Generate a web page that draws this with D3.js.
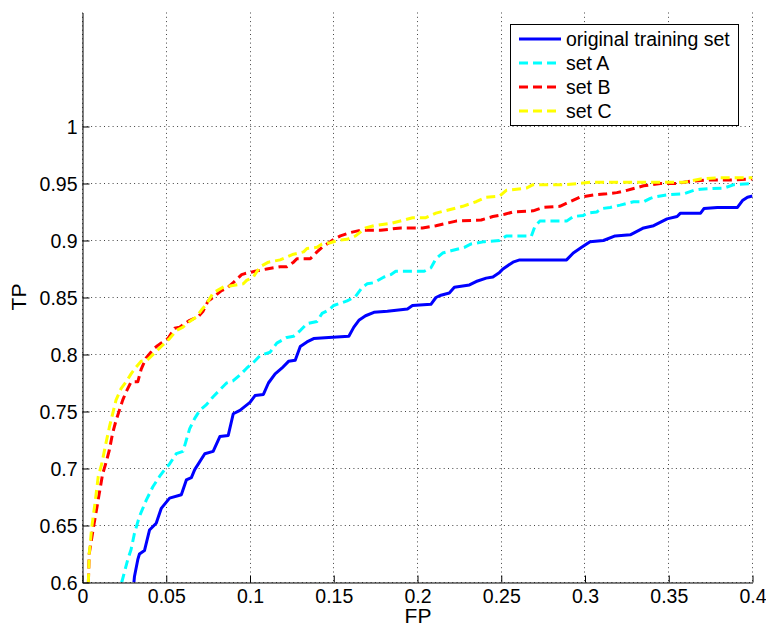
<!DOCTYPE html>
<html>
<head>
<meta charset="utf-8">
<script src="https://cdn.jsdelivr.net/npm/d3@7/dist/d3.min.js"></script>
<style>
  html, body { margin: 0; padding: 0; background: #fff; }
  svg { display: block; font-family: "Liberation Sans", Arial, Helvetica, sans-serif; }
</style>
</head>
<body>
<svg id="chart" width="766" height="627"></svg>
<script>
// ---- data ----
const xTicks = [0, 0.05, 0.1, 0.15, 0.2, 0.25, 0.3, 0.35, 0.4];
const yTicks = [0.6, 0.65, 0.7, 0.75, 0.8, 0.85, 0.9, 0.95, 1];
const xTickLabels = ["0", "0.05", "0.1", "0.15", "0.2", "0.25", "0.3", "0.35", "0.4"];
const yTickLabels = ["0.6", "0.65", "0.7", "0.75", "0.8", "0.85", "0.9", "0.95", "1"];
const seriesNames = ["original training set", "set A", "set B", "set C"];

const originalSet = [[0.0307,0.6],[0.031,0.605],[0.033,0.62],[0.034,0.625],[0.037,0.628],[0.040,0.646],[0.044,0.652],[0.047,0.665],[0.052,0.674],[0.059,0.677],[0.062,0.690],[0.065,0.692],[0.067,0.699],[0.073,0.713],[0.078,0.715],[0.082,0.728],[0.087,0.729],[0.090,0.748],[0.094,0.751],[0.100,0.758],[0.103,0.764],[0.108,0.765],[0.111,0.775],[0.115,0.783],[0.119,0.788],[0.123,0.794],[0.127,0.795],[0.130,0.807],[0.134,0.811],[0.138,0.814],[0.147,0.815],[0.159,0.816],[0.162,0.824],[0.165,0.830],[0.169,0.834],[0.174,0.837],[0.182,0.838],[0.194,0.840],[0.197,0.843],[0.208,0.844],[0.211,0.850],[0.214,0.852],[0.219,0.854],[0.222,0.859],[0.231,0.861],[0.235,0.864],[0.241,0.867],[0.245,0.868],[0.249,0.872],[0.251,0.875],[0.257,0.881],[0.261,0.883],[0.289,0.883],[0.293,0.889],[0.298,0.894],[0.303,0.899],[0.311,0.900],[0.318,0.904],[0.327,0.905],[0.335,0.911],[0.341,0.913],[0.349,0.919],[0.355,0.921],[0.357,0.924],[0.369,0.924],[0.371,0.928],[0.379,0.929],[0.391,0.929],[0.394,0.935],[0.397,0.938],[0.400,0.939]];

const setA = [[0.0234,0.6],[0.027,0.620],[0.029,0.629],[0.031,0.643],[0.034,0.658],[0.038,0.672],[0.042,0.684],[0.046,0.693],[0.049,0.699],[0.052,0.704],[0.056,0.713],[0.060,0.715],[0.062,0.725],[0.064,0.735],[0.067,0.744],[0.070,0.751],[0.074,0.756],[0.078,0.763],[0.082,0.769],[0.086,0.775],[0.090,0.777],[0.094,0.782],[0.098,0.788],[0.102,0.793],[0.106,0.799],[0.112,0.802],[0.116,0.810],[0.122,0.815],[0.126,0.816],[0.130,0.821],[0.134,0.827],[0.140,0.829],[0.143,0.836],[0.147,0.839],[0.150,0.843],[0.158,0.847],[0.163,0.851],[0.167,0.859],[0.170,0.862],[0.174,0.863],[0.180,0.868],[0.184,0.870],[0.187,0.873],[0.204,0.873],[0.208,0.876],[0.211,0.884],[0.215,0.889],[0.220,0.891],[0.228,0.894],[0.232,0.897],[0.240,0.899],[0.249,0.900],[0.253,0.904],[0.268,0.904],[0.270,0.912],[0.273,0.917],[0.289,0.917],[0.293,0.921],[0.299,0.922],[0.301,0.924],[0.307,0.925],[0.310,0.928],[0.315,0.929],[0.321,0.931],[0.329,0.934],[0.335,0.934],[0.339,0.937],[0.341,0.938],[0.349,0.940],[0.359,0.941],[0.365,0.944],[0.369,0.945],[0.383,0.946],[0.389,0.949],[0.400,0.950]];

const setB = [[0.0035,0.6],[0.004,0.625],[0.0065,0.648],[0.0085,0.665],[0.010,0.678],[0.012,0.695],[0.014,0.705],[0.016,0.716],[0.018,0.731],[0.020,0.742],[0.022,0.751],[0.024,0.760],[0.026,0.767],[0.029,0.776],[0.033,0.776],[0.035,0.787],[0.038,0.797],[0.0425,0.805],[0.045,0.808],[0.047,0.810],[0.051,0.814],[0.055,0.823],[0.058,0.824],[0.062,0.828],[0.064,0.830],[0.069,0.833],[0.072,0.838],[0.075,0.847],[0.077,0.849],[0.083,0.856],[0.086,0.858],[0.090,0.863],[0.095,0.870],[0.097,0.871],[0.103,0.873],[0.110,0.875],[0.118,0.877],[0.122,0.877],[0.126,0.881],[0.128,0.884],[0.136,0.884],[0.140,0.890],[0.143,0.894],[0.146,0.897],[0.150,0.901],[0.154,0.904],[0.160,0.907],[0.166,0.909],[0.178,0.909],[0.190,0.911],[0.203,0.911],[0.211,0.913],[0.217,0.915],[0.223,0.917],[0.238,0.918],[0.245,0.921],[0.252,0.923],[0.257,0.925],[0.269,0.926],[0.275,0.929],[0.285,0.930],[0.291,0.934],[0.297,0.938],[0.305,0.940],[0.313,0.941],[0.319,0.942],[0.325,0.944],[0.335,0.948],[0.345,0.950],[0.355,0.950],[0.363,0.952],[0.373,0.953],[0.385,0.953],[0.400,0.954]];

const setC = [[0.0035,0.6],[0.004,0.625],[0.0055,0.648],[0.0075,0.670],[0.0094,0.693],[0.0115,0.704],[0.0134,0.718],[0.016,0.736],[0.018,0.748],[0.020,0.760],[0.023,0.770],[0.026,0.776],[0.029,0.783],[0.032,0.789],[0.035,0.794],[0.0385,0.795],[0.0435,0.802],[0.047,0.807],[0.052,0.814],[0.056,0.821],[0.060,0.824],[0.064,0.829],[0.068,0.833],[0.071,0.839],[0.074,0.844],[0.078,0.854],[0.085,0.860],[0.088,0.860],[0.096,0.862],[0.098,0.865],[0.102,0.868],[0.106,0.877],[0.111,0.881],[0.118,0.883],[0.126,0.888],[0.132,0.890],[0.134,0.893],[0.140,0.894],[0.143,0.897],[0.148,0.898],[0.152,0.900],[0.158,0.901],[0.163,0.904],[0.169,0.911],[0.174,0.913],[0.184,0.915],[0.192,0.918],[0.197,0.920],[0.205,0.920],[0.211,0.924],[0.219,0.927],[0.227,0.930],[0.235,0.934],[0.241,0.938],[0.249,0.939],[0.253,0.944],[0.265,0.946],[0.269,0.949],[0.289,0.949],[0.303,0.951],[0.359,0.951],[0.369,0.954],[0.379,0.955],[0.400,0.955]];

const seriesData = [originalSet, setA, setB, setC];
const seriesColors = ["#0000ff", "#00ffff", "#ff0000", "#ffff00"];
const seriesDash = [null, "9,5", "9,5", "9,5"];

// ---- layout ----
const svg = d3.select("#chart");
const plotLeft = 82.5, plotRight = 752.5, plotTop = 12.5, plotBottom = 582.5;
const x = d3.scaleLinear().domain([0, 0.4]).range([plotLeft, plotRight]);
const y = d3.scaleLinear().domain([0.6, 1.1]).range([plotBottom, plotTop]);
const snap = v => Math.round(v - 0.5) + 0.5;

// grid
const grid = svg.append("g").attr("stroke", "#444").attr("stroke-width", 1).attr("stroke-dasharray", "1,3.3");
xTicks.forEach(t => {
  const px = snap(x(t));
  grid.append("line").attr("x1", px).attr("x2", px).attr("y1", plotTop).attr("y2", plotBottom);
});
yTicks.forEach(t => {
  const py = snap(y(t));
  grid.append("line").attr("x1", plotLeft).attr("x2", plotRight).attr("y1", py).attr("y2", py);
});

// clip
svg.append("clipPath").attr("id", "clip").append("rect")
  .attr("x", plotLeft).attr("y", plotTop).attr("width", plotRight - plotLeft).attr("height", plotBottom - plotTop);

const line = d3.line().x(d => x(d[0])).y(d => y(d[1]));
const lines = svg.append("g").attr("clip-path", "url(#clip)");
seriesData.forEach((s, i) => {
  lines.append("path").datum(s)
    .attr("d", line)
    .attr("fill", "none")
    .attr("stroke", seriesColors[i])
    .attr("stroke-width", 3)
    .attr("stroke-linejoin", "round")
    .attr("stroke-dasharray", seriesDash[i]);
});

// axes
const xAxis = d3.axisBottom(x).tickValues(xTicks).tickFormat((d, i) => xTickLabels[i]).tickSizeInner(-7).tickSizeOuter(0).tickPadding(10);
const yAxis = d3.axisLeft(y).tickValues(yTicks).tickFormat((d, i) => yTickLabels[i]).tickSizeInner(-7).tickSizeOuter(0).tickPadding(5);

const gx = svg.append("g").attr("transform", `translate(0,${plotBottom})`).call(xAxis);
const gy = svg.append("g").attr("transform", `translate(${plotLeft},0)`).call(yAxis);
[gx, gy].forEach(g => {
  g.select(".domain").attr("stroke", "#000").attr("stroke-width", 1);
  g.selectAll(".tick line").attr("stroke", "#000");
  g.selectAll(".tick text").attr("fill", "#000").style("font-size", "19.5px")
    .style("font-family", '"Liberation Sans", Arial, sans-serif');
});
gx.selectAll(".tick text").attr("dy", "0.71em").attr("y", 7);
gy.selectAll(".tick text").attr("dy", "0.35em").attr("x", -5);

// axis labels
svg.append("text").attr("x", 418).attr("y", 623).attr("text-anchor", "middle")
  .style("font-size", "21px").text("FP");
svg.append("text").attr("transform", "translate(26,297) rotate(-90)").attr("text-anchor", "middle")
  .style("font-size", "21px").text("TP");

// legend
const lg = svg.append("g");
lg.append("rect").attr("x", 510.5).attr("y", 24.5).attr("width", 228).attr("height", 101)
  .attr("fill", "#fff").attr("stroke", "#000").attr("stroke-width", 1);
const legendY = [39, 63, 87, 111];
seriesNames.forEach((n, i) => {
  lg.append("line").attr("x1", 519).attr("x2", 561).attr("y1", legendY[i]).attr("y2", legendY[i])
    .attr("stroke", seriesColors[i]).attr("stroke-width", 3)
    .attr("stroke-dasharray", seriesDash[i]);
  lg.append("text").attr("x", 566).attr("y", legendY[i]).attr("dy", "0.35em")
    .style("font-size", "19.5px").text(n);
});
</script>
</body>
</html>
